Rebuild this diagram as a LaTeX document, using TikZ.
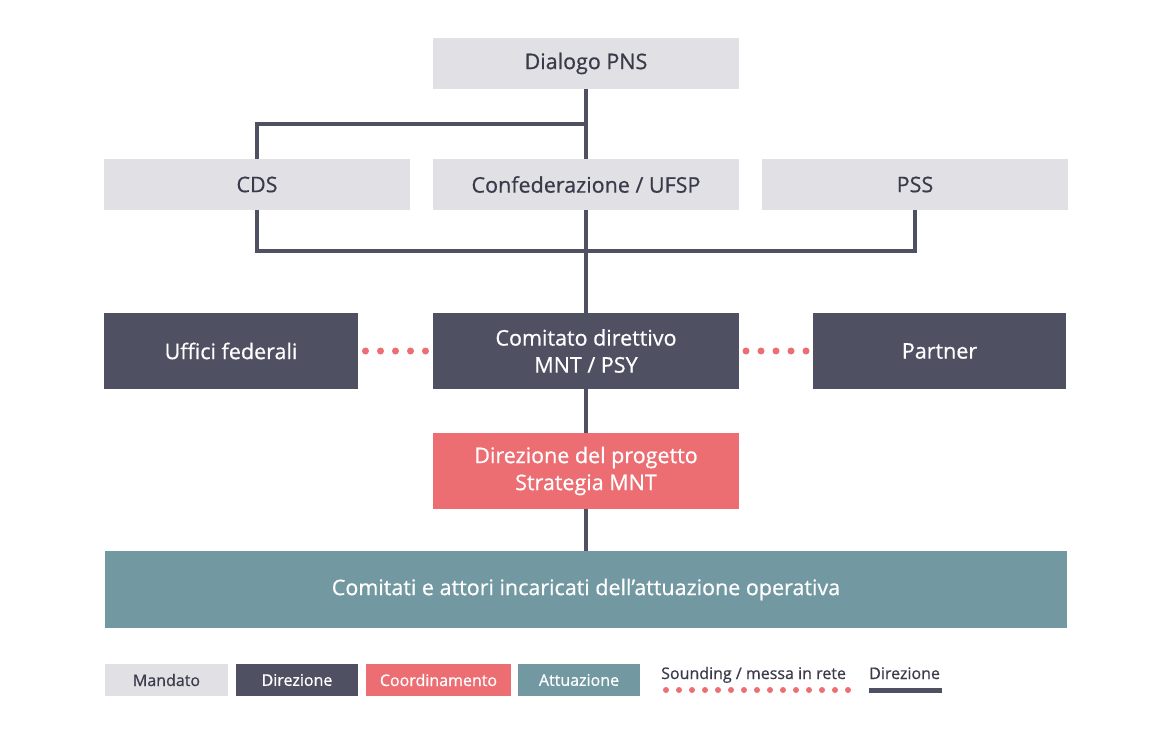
\documentclass[tikz,border=0pt]{standalone}
\usepackage{fontspec}
\setmainfont[FakeBold=0.6]{Open Sans}
\usetikzlibrary{positioning}
\definecolor{mandato}{HTML}{E1E1E5}
\definecolor{direzione}{HTML}{4F5062}
\definecolor{coordinamento}{HTML}{EC6E72}
\definecolor{attuazione}{HTML}{7298A2}
\definecolor{testo}{HTML}{3A3B4A}

\begin{document}
\begin{tikzpicture}[x=1pt, y=-1pt,
  every text node part/.style={align=center},
  box/.style={inner sep=0pt, outer sep=0pt, minimum width=306pt, minimum height=51pt, font=\fontsize{21.5}{27}\selectfont},
  mand/.style={box, fill=mandato, text=testo},
  dir/.style={box, fill=direzione, text=white, minimum height=76pt},
  coord/.style={box, fill=coordinamento, text=white, minimum height=76pt},
  att/.style={box, fill=attuazione, text=white, minimum height=77pt},
  legbox/.style={inner sep=0pt, outer sep=0pt, minimum height=32pt, font=\fontsize{16}{18}\selectfont},
  legtext/.style={inner sep=0pt, text=testo, font=\fontsize{16}{18}\selectfont},
  link/.style={draw=direzione, line width=4pt},
  sound/.style={draw=coordinamento, line width=7pt, line cap=round, dash pattern=on 0pt off 15pt}]
  \useasboundingbox[fill=white] (0,0) rectangle (1153,741);

  % organigramma
  \node [mand] (pns) at (586,63.5) {Dialogo PNS};
  \node [mand, below=70pt of pns] (conf) {Confederazione / UFSP};
  \node [mand, left=23pt of conf] (cds) {CDS};
  \node [mand, right=23pt of conf] (pss) {PSS};
  \node [dir, below=103pt of conf] (cd) {Comitato direttivo \\ MNT / PSY};
  \node [dir, minimum width=254pt, left=75pt of cd] (uff) {Uffici federali};
  \node [dir, minimum width=253pt, right=74pt of cd] (partner) {Partner};
  \node [coord, below=44pt of cd] (dp) {Direzione del progetto \\ Strategia MNT};
  \node [att, minimum width=962pt, below=42pt of dp] (attori) {Comitati e attori incaricati dell’attuazione operativa};

  \path (pns.south) -- (conf.north) coordinate[pos=0.5] (j1);
  \path (conf.south) -- (cd.north) coordinate[pos=0.4] (j2);
  \draw [link] (pns.south) -- (conf.north);
  \draw [link] (j1) -| (cds.north);
  \draw [link] (cds.south) |- (j2) -| (pss.south);
  \draw [link] (conf.south) -- (cd.north);
  \draw [link] (cd.south) -- (dp.north);
  \draw [link] (dp.south) -- (attori.north);
  \draw [sound, shorten <=7.5pt, shorten >=7pt] (uff.east) -- (cd.west);
  \draw [sound, shorten <=7pt, shorten >=6.5pt] (cd.east) -- (partner.west);

  % legenda
  \node [legbox, fill=mandato, text=testo, minimum width=123pt] (lmand) at (166.5,680) {Mandato};
  \node [legbox, fill=direzione, text=white, minimum width=122pt, right=8pt of lmand] (ldir) {Direzione};
  \node [legbox, fill=coordinamento, text=white, minimum width=145pt, right=8pt of ldir] (lcoord) {Coordinamento};
  \node [legbox, fill=attuazione, text=white, minimum width=122pt, right=7pt of lcoord] (latt) {Attuazione};
  \node [legtext, anchor=base west] (lsound) at (661,679) {Sounding / messa in rete};
  \node [legtext, anchor=base west] (llink) at (869,679) {Direzione};
  \coordinate (s1) at (666,690);
  \coordinate (s2) at (848.5,690);
  \coordinate (d1) at (869,690);
  \coordinate (d2) at (942,690);
  \draw [sound, line width=6pt, dash pattern=on 0pt off 13pt] (s1) -- (s2);
  \draw [link, line width=5pt] (d1) -- (d2);
\end{tikzpicture}
\end{document}
